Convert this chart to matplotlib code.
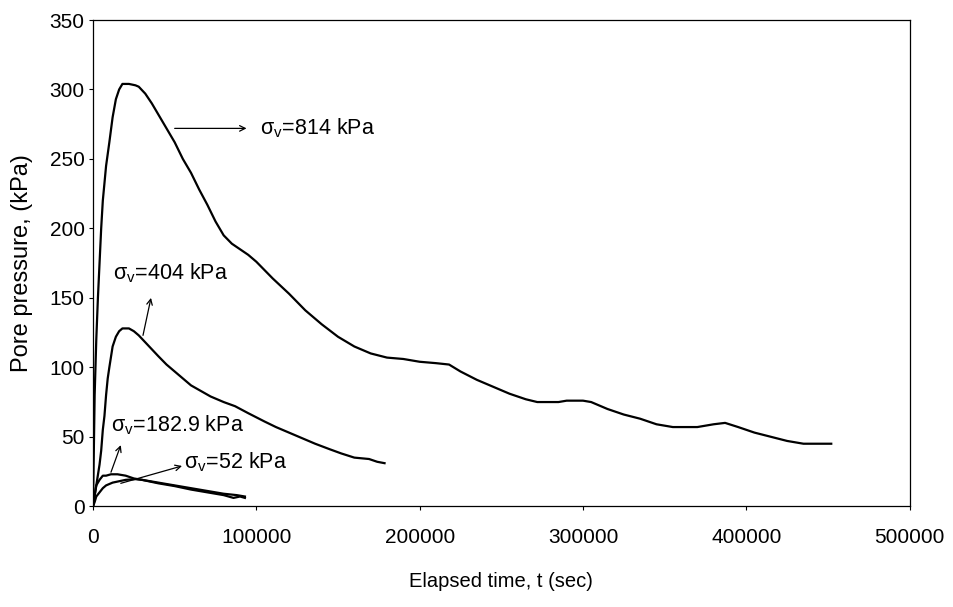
import matplotlib
matplotlib.use("Agg")
import matplotlib.pyplot as plt

plt.rcParams['font.family'] = ['Liberation Sans', 'DejaVu Sans']
plt.rcParams['mathtext.fontset'] = 'custom'
plt.rcParams['mathtext.rm'] = 'Liberation Sans'
plt.rcParams['mathtext.it'] = 'Liberation Sans'

# ---- data (time in seconds, pore pressure in kPa) ----
t_814 = [0, 500, 1000, 2000, 3000, 4000, 5000, 6000, 8000, 10000, 12000, 14000, 16000,
         18000, 22000, 26000, 28000, 32000, 36000, 40000, 45000, 50000, 55000, 60000,
         65000, 70000, 75000, 80000, 85000, 90000, 95000, 100000, 110000, 120000, 130000,
         140000, 150000, 160000, 170000, 180000, 190000, 200000, 210000, 218000, 225000,
         235000, 245000, 255000, 265000, 272000, 280000, 285000, 290000, 300000, 305000,
         315000, 325000, 335000, 345000, 355000, 370000, 380000, 387000, 395000, 405000,
         415000, 425000, 435000, 445000, 452000]
u_814 = [0, 40, 80, 120, 150, 175, 200, 220, 245, 262, 280, 293, 300,
         304, 304, 303, 302, 297, 290, 282, 272, 262, 250, 240,
         228, 217, 205, 195, 189, 185, 181, 176, 164, 153, 141,
         131, 122, 115, 110, 107, 106, 104, 103, 102, 97,
         91, 86, 81, 77, 75, 75, 75, 76, 76, 75,
         70, 66, 63, 59, 57, 57, 59, 60, 57, 53,
         50, 47, 45, 45, 45]

t_404 = [0, 2000, 4000, 5000, 6000, 7000, 8000, 9000, 10000, 12000, 14000, 16000, 18000,
         22000, 25000, 28000, 32000, 36000, 40000, 45000, 50000, 55000, 60000, 66000,
         72000, 80000, 87000, 95000, 105000, 112000, 120000, 128000, 136000, 145000,
         152000, 160000, 169000, 174000, 178500]
u_404 = [0, 15, 30, 40, 55, 65, 80, 92, 100, 115, 122, 126, 128,
         128, 126, 123, 118, 113, 108, 102, 97, 92, 87, 83,
         79, 75, 72, 67, 61, 57, 53, 49, 45, 41,
         38, 35, 34, 32, 31]

t_183 = [0, 1000, 2000, 4000, 6000, 8000, 11000, 15000, 20000, 25000, 30000, 40000,
         50000, 60000, 70000, 80000, 88000, 93000]
u_183 = [0, 8, 15, 19, 22, 22, 23, 23, 22, 20, 19, 17,
         15, 13, 11, 9, 8, 7]

t_52 = [0, 1000, 2000, 4000, 6000, 8000, 12000, 16000, 20000, 26000, 30000, 40000,
        50000, 60000, 70000, 80000, 86000, 90000, 93000]
u_52 = [0, 3, 7, 10, 13, 15, 17, 18, 19, 19.5, 19, 16.5,
        14.5, 12, 10, 8, 6, 7, 6]

x_ticks = [0, 100000, 200000, 300000, 400000, 500000]
y_ticks = [0, 50, 100, 150, 200, 250, 300, 350]

labels = [r"σ$_\mathrm{v}$=814 kPa", r"σ$_\mathrm{v}$=404 kPa",
          r"σ$_\mathrm{v}$=182.9 kPa", r"σ$_\mathrm{v}$=52 kPa"]

fig = plt.figure(figsize=(9.54, 6.07), dpi=100)
ax = fig.add_axes([0.0975, 0.166, 0.856, 0.801])

for t, u in [(t_814, u_814), (t_404, u_404), (t_183, u_183), (t_52, u_52)]:
    ax.plot(t, u, color='black', lw=1.6)

ax.set_xlim(0, 500000)
ax.set_ylim(0, 350)
ax.set_xticks(x_ticks)
ax.set_xticklabels([str(v) for v in x_ticks])
ax.set_yticks(y_ticks)
ax.set_yticklabels([str(v) for v in y_ticks])
ax.tick_params(axis='both', direction='out', length=3, width=0.8, labelsize=15,
               top=False, right=False)
ax.tick_params(axis='y', pad=3)
ax.tick_params(axis='x', pad=13)
for s in ax.spines.values():
    s.set_linewidth(0.9)

ax.set_xlabel("Elapsed time, t (sec)", fontsize=14.5, labelpad=18)
ax.set_ylabel("Pore pressure, (kPa)", fontsize=17, labelpad=12)

arr = dict(arrowstyle='->', color='black', lw=0.9, shrinkA=0, shrinkB=0)
fs = 15.5
# 814
ax.annotate("", xy=(94000, 272), xytext=(50000, 272), arrowprops=arr)
ax.text(102000, 272, labels[0], fontsize=fs, va='center', ha='left')
# 404
ax.annotate("", xy=(35500, 150), xytext=(30600, 123), arrowprops=arr)
ax.text(12000, 168, labels[1], fontsize=fs, va='center', ha='left')
# 182.9
ax.annotate("", xy=(17000, 44), xytext=(11000, 24.5), arrowprops=arr)
ax.text(11000, 58, labels[2], fontsize=fs, va='center', ha='left')
# 52
ax.annotate("", xy=(54500, 29), xytext=(17000, 16.5), arrowprops=arr)
ax.text(56000, 32, labels[3], fontsize=fs, va='center', ha='left')

fig.savefig("out.png", dpi=100)
